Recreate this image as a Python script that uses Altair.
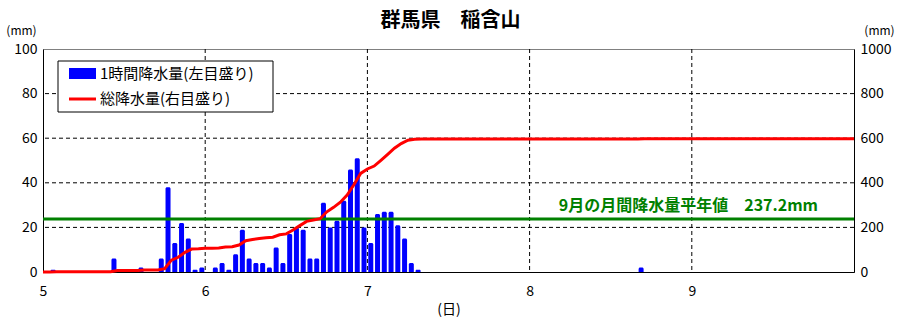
import altair as alt
import pandas as pd

FONT = "Noto Sans CJK JP"
W, H = 811, 223

# hourly precipitation: hour index from 5th 00:00 (bar spans hour..hour+1), mm
bar_hour = [1, 10, 14, 17, 18, 19, 20, 21, 22, 23,
            25, 26, 27, 28, 29, 30, 31, 32, 33, 34, 35, 36, 37, 38, 39, 40,
            41, 42, 43, 44, 45, 46, 47, 48, 49, 50, 51, 52, 53, 54, 55, 88]
bar_mm = [1, 6, 2, 6, 38, 13, 22, 15, 1, 2,
          2, 4, 1, 8, 19, 6, 4, 4, 2, 11, 4, 17, 20, 19, 6, 6,
          31, 20, 23, 32, 46, 51, 20, 13, 26, 27, 27, 21, 15, 4, 1, 2]

# total precipitation (right scale), read at hours from 5th 00:00
total_hour = [0, 1, 2, 10, 11, 14, 15, 17, 18, 19, 20, 21, 22, 23, 24, 25,
              26, 27, 28, 29, 30, 31, 32, 33, 34, 35, 36, 37, 38, 39, 40,
              41, 42, 43, 44, 45, 46, 47, 48, 49, 50, 51, 52, 53, 54, 55, 56,
              88, 89, 120]
total_mm = [0, 0, 1, 1, 7, 7, 9, 9, 15, 53, 66, 88, 103, 104, 106, 106,
            108, 112, 113, 121, 140, 146, 150, 154, 156, 167, 171, 188, 208, 227, 233,
            239, 270, 290, 313, 345, 391, 442, 462, 475, 501, 528, 555, 576, 591, 595, 596,
            596, 598, 598]

normal_mm = 237.2
normal_label = "9月の月間降水量平年値　237.2mm"

day_ticks = [0, 24, 48, 72, 96]
left_ticks = [0, 20, 40, 60, 80, 100]
right_ticks = [0, 200, 400, 600, 800, 1000]
hgrid_vals = [20, 40, 60, 80]
vgrid_vals = [24, 48, 72, 96]

xscale = alt.Scale(domain=[0, 120], nice=False, zero=False)
yl = alt.Scale(domain=[0, 100], nice=False)
yr = alt.Scale(domain=[0, 1000], nice=False)

xax = alt.Axis(values=day_ticks, labelExpr="datum.value/24+5", title="(日)",
               grid=False, ticks=False, tickSize=0, domainColor="black",
               labelFont=FONT, labelFontSize=14, labelColor="black", labelPadding=12,
               labelFlush=False, titleFont=FONT, titleFontSize=14,
               titleFontWeight="normal", titleColor="black", titlePadding=4)

yax_left = alt.Axis(values=left_ticks, grid=False, ticks=False, tickSize=0,
                    domainColor="black", labelFont=FONT, labelFontSize=14,
                    labelColor="black", labelPadding=6, labelFlush=False,
                    title="(mm)", titleAngle=0, titleX=-22, titleY=-19,
                    titleAlign="center", titleBaseline="middle", titleFont=FONT,
                    titleFontSize=12, titleFontWeight="normal", titleColor="black")

yax_right = alt.Axis(values=right_ticks, orient="right", grid=False, ticks=False,
                     tickSize=0, domainColor="black", labelFont=FONT, labelFontSize=14,
                     labelColor="black", labelPadding=6, labelFlush=False, format="d",
                     title="(mm)", titleAngle=0, titleX=25, titleY=-19,
                     titleAlign="center", titleBaseline="middle", titleFont=FONT,
                     titleFontSize=12, titleFontWeight="normal", titleColor="black")

df_bars = pd.DataFrame({"h": bar_hour, "mm": bar_mm})
df_total = pd.DataFrame({"h": total_hour, "mm": total_mm})
one = alt.Data(values=[{}])

hgrid = alt.Chart(pd.DataFrame({"v": hgrid_vals})).mark_rule(
    color="black", strokeDash=[4, 3], strokeWidth=1).encode(
    y=alt.Y("v:Q", scale=yl, axis=None))

vgrid = alt.Chart(pd.DataFrame({"v": vgrid_vals})).mark_rule(
    color="black", strokeDash=[4, 3], strokeWidth=1).encode(
    x=alt.X("v:Q", scale=xscale, axis=xax))

bars = alt.Chart(df_bars).transform_calculate(
    x0="datum.h + 0.13", x1="datum.h + 0.87", base="0").mark_bar(
    color="#0000FF", cornerRadiusTopLeft=1.5, cornerRadiusTopRight=1.5).encode(
    x=alt.X("x0:Q", scale=xscale, axis=xax),
    x2="x1:Q",
    y=alt.Y("mm:Q", scale=yl, axis=yax_left),
    y2="base:Q")

normal_rule = alt.Chart(pd.DataFrame({"v": [normal_mm]})).mark_rule(
    color="#008000", strokeWidth=3).encode(
    y=alt.Y("v:Q", scale=yr, axis=None))

normal_text = alt.Chart(pd.DataFrame({"v": [normal_mm], "t": [normal_label]})).mark_text(
    color="#008000", font=FONT, fontSize=16, fontWeight="bold",
    align="right", baseline="middle", dy=-13).encode(
    x=alt.value(775), y=alt.Y("v:Q", scale=yr, axis=None), text="t:N")

line = alt.Chart(df_total).mark_line(color="#FF0000", strokeWidth=3).encode(
    x=alt.X("h:Q", scale=xscale, axis=xax),
    y=alt.Y("mm:Q", scale=yr, axis=yax_right))

# legend box
leg_box = alt.Chart(one).mark_rect(fill="white", stroke="black", strokeWidth=1).encode(
    x=alt.value(15), x2=alt.value(230), y=alt.value(12), y2=alt.value(63))
leg_bar = alt.Chart(one).mark_rect(fill="#0000FF").encode(
    x=alt.value(26), x2=alt.value(53), y=alt.value(19), y2=alt.value(30))
leg_line = alt.Chart(one).mark_rule(color="#FF0000", strokeWidth=3).encode(
    x=alt.value(26), x2=alt.value(53), y=alt.value(50))
leg_t1 = alt.Chart(one).mark_text(font=FONT, fontSize=15, align="left",
                                  baseline="middle", color="black").encode(
    x=alt.value(57), y=alt.value(25), text=alt.value("1時間降水量(左目盛り)"))
leg_t2 = alt.Chart(one).mark_text(font=FONT, fontSize=15, align="left",
                                  baseline="middle", color="black").encode(
    x=alt.value(57), y=alt.value(50), text=alt.value("総降水量(右目盛り)"))

title = alt.Chart(one).mark_text(font=FONT, fontSize=20, fontWeight="bold",
                                 align="center", baseline="middle", color="black").encode(
    x=alt.value(W / 2 + 2), y=alt.value(-28), text=alt.value("群馬県　稲含山"))

chart = alt.layer(
    hgrid, vgrid, bars, normal_rule, normal_text, line,
    leg_box, leg_bar, leg_line, leg_t1, leg_t2, title
).resolve_scale(y="independent").properties(
    width=W, height=H,
    autosize=alt.AutoSizeParams(type="none"),
    padding={"left": 43, "top": 49, "right": 52, "bottom": 59},
    background="white"
).configure_view(stroke="#808080", strokeWidth=1)

chart.save("out.html", embed_options={"renderer": "svg", "actions": False})
